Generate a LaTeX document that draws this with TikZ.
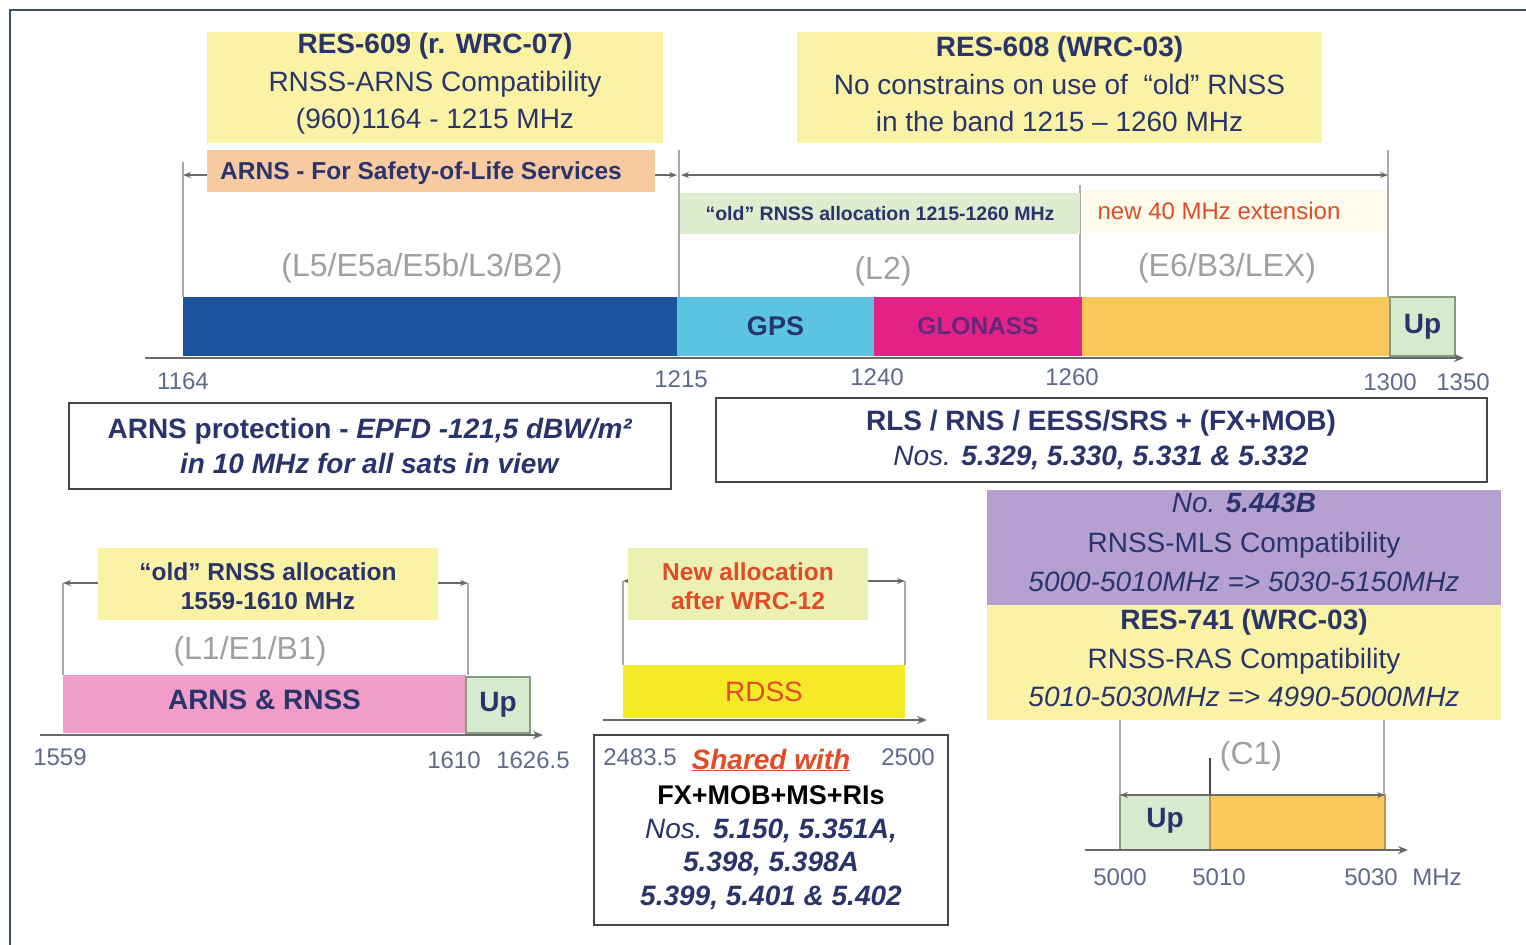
\documentclass[tikz,border=0pt]{standalone}
\usepackage{fontspec}
\setmainfont{Liberation Sans}
\usetikzlibrary{arrows.meta}
\definecolor{navy}{RGB}{42,52,108}
\definecolor{ticktxt}{RGB}{95,105,140}
\definecolor{glabel}{RGB}{160,160,160}
\definecolor{yellowA}{RGB}{250,243,165}
\definecolor{salmon}{RGB}{248,202,162}
\definecolor{lgreen}{RGB}{222,236,208}
\definecolor{pale}{RGB}{254,251,236}
\definecolor{darkblue}{RGB}{28,84,158}
\definecolor{cyanb}{RGB}{92,196,226}
\definecolor{magentab}{RGB}{228,34,134}
\definecolor{orangeb}{RGB}{250,200,90}
\definecolor{upgreen}{RGB}{216,234,206}
\definecolor{upedge}{RGB}{130,155,130}
\definecolor{pinkb}{RGB}{240,158,200}
\definecolor{rdssb}{RGB}{246,234,40}
\definecolor{ygreen}{RGB}{236,240,178}
\definecolor{purpleb}{RGB}{182,160,208}
\definecolor{redtxt}{RGB}{225,75,40}
\definecolor{framec}{RGB}{60,80,100}
\definecolor{boxedge}{RGB}{70,70,70}
\definecolor{glontxt}{RGB}{100,40,120}
\definecolor{vline}{RGB}{170,170,170}
\definecolor{arrowc}{RGB}{105,105,105}
\newcommand\fsz[2]{\fontsize{#1}{#2}\selectfont}
\tikzset{
  every node/.style={inner sep=0pt, outer sep=0pt},
  fillbox/.style={draw=none, rectangle},
  edgebox/.style={draw=boxedge, line width=2pt, fill=white, rectangle},
  txt/.style={text=navy, font=\fsz{28}{37}, align=center},
  graylab/.style={text=glabel, font=\fsz{32}{36}},
  ticklab/.style={text=ticktxt, font=\fsz{24}{28}},
  vguide/.style={draw=vline, line width=1.2pt},
  dblarrow/.style={draw=arrowc, line width=1.3pt, {Stealth[length=8pt,width=6pt]}-{Stealth[length=8pt,width=6pt]}},
  axisline/.style={draw=arrowc, line width=2pt, -{Stealth[length=10pt,width=8pt]}},
  upbox/.style={fill=upgreen, draw=upedge, line width=1.2pt, rectangle},
  frameline/.style={draw=framec, line width=2.5pt}
}
\begin{document}
\begin{tikzpicture}[x=1pt,y=-1pt]
\useasboundingbox (0,0) rectangle (1526,945);
\fill[white] (0,0) rectangle (1526,945);

% frame
\coordinate (fTR) at (1526,10);
\coordinate (fTL) at (10,10);
\coordinate (fBL) at (10,945);
\draw[frameline] (fTR) -- (fTL) -- (fBL);

% ================= TOP BAND =================
% guide lines
\coordinate (g1t) at (183,162); \coordinate (g1b) at (183,297);
\coordinate (g2t) at (679,150); \coordinate (g2b) at (679,297);
\coordinate (g3t) at (1080,185); \coordinate (g3b) at (1080,297);
\coordinate (g4t) at (1388,150); \coordinate (g4b) at (1388,297);
\draw[vguide] (g1t) -- (g1b);
\draw[vguide] (g2t) -- (g2b);
\draw[vguide] (g3t) -- (g3b);
\draw[vguide] (g4t) -- (g4b);

% span arrows
\coordinate (a1L) at (183,175); \coordinate (a1R) at (677,175);
\coordinate (a2L) at (681,175); \coordinate (a2R) at (1388,175);
\draw[dblarrow] (a1L) -- (a1R);
\draw[dblarrow] (a2L) -- (a2R);

% RES-609
\node[fillbox, fill=yellowA, minimum width=456pt, minimum height=111pt] (res609) at (435,87.5) {};
\node[txt, font=\fsz{28}{37.5}] (res609t) at (435,84) {\textbf{RES-609 (r. WRC-07)}\\RNSS-ARNS Compatibility\\(960)1164 - 1215 MHz};

% ARNS safety of life
\node[fillbox, fill=salmon, minimum width=448pt, minimum height=42pt] (arnssol) at (431,171) {};
\node[txt, font=\fsz{24.5}{28}\bfseries] (arnssolt) at (421,173) {ARNS - For Safety-of-Life Services};

% RES-608
\node[fillbox, fill=yellowA, minimum width=525pt, minimum height=111pt] (res608) at (1059.5,87.5) {};
\node[txt, font=\fsz{28}{37.5}] (res608t) at (1059.5,84) {\textbf{RES-608 (WRC-03)}\\No constrains on use of \ “old” RNSS\\in the band 1215 -- 1260 MHz};

% old RNSS allocation / new 40 MHz
\node[fillbox, fill=lgreen, minimum width=400pt, minimum height=41pt] (oldL2) at (880,213.5) {};
\node[txt, font=\fsz{19.5}{24}\bfseries] (oldL2t) at (880,214) {“old” RNSS allocation 1215-1260 MHz};
\node[fillbox, fill=pale, minimum width=303pt, minimum height=42pt] (new40) at (1233.5,211) {};
\node[txt, text=redtxt, font=\fsz{24}{28}] (new40t) at (1219,211) {new 40 MHz extension};

% band names
\node[graylab] (l5lab) at (422,268) {(L5/E5a/E5b/L3/B2)};
\node[graylab] (l2lab) at (883,271) {(L2)};
\node[graylab] (e6lab) at (1227,268) {(E6/B3/LEX)};

% band bars
\node[fillbox, fill=darkblue, minimum width=494pt, minimum height=59pt] (barL5) at (430,326.5) {};
\node[fillbox, fill=cyanb, minimum width=197pt, minimum height=59pt, text=navy, font=\fsz{27}{30}\bfseries] (barGPS) at (775.5,326.5) {GPS};
\node[fillbox, fill=magentab, minimum width=208pt, minimum height=59pt, text=glontxt, font=\fsz{24.5}{28}\bfseries] (barGLO) at (978,326.5) {GLONASS};
\node[fillbox, fill=orangeb, minimum width=308pt, minimum height=59pt] (barE6) at (1236,326.5) {};
\node[upbox, minimum width=65pt, minimum height=59pt, text=navy, font=\fsz{28}{30}\bfseries] (barUp) at (1422.5,326.5) {Up};

% axis
\coordinate (ax1s) at (145,358); \coordinate (ax1e) at (1464,358);
\draw[axisline] (ax1s) -- (ax1e);

\node[ticklab] (t1164) at (183,381) {1164};
\node[ticklab] (t1215) at (681,379) {1215};
\node[ticklab] (t1240) at (877,377) {1240};
\node[ticklab] (t1260) at (1072,377) {1260};
\node[ticklab] (t1300) at (1390,382) {1300};
\node[ticklab] (t1350) at (1463,382) {1350};

% ARNS protection
\node[edgebox, minimum width=602pt, minimum height=86pt] (arnsprot) at (370,446) {};
\node[txt, font=\fsz{28}{35}\bfseries] (arnsprott) at (370,446) {ARNS protection - \textit{EPFD -121,5 dBW/m²}\\\textit{in 10 MHz for all sats in view}};

% RLS box
\node[edgebox, minimum width=771pt, minimum height=84pt] (rls) at (1101.5,440) {};
\node[txt, font=\fsz{28}{35}] (rlst) at (1101,440) {\textbf{RLS / RNS / EESS/SRS + (FX+MOB)}\\\textit{Nos.} \textbf{\textit{5.329, 5.330, 5.331 \& 5.332}}};

% ================= RIGHT (C1) =================
\node[fillbox, fill=purpleb, minimum width=514pt, minimum height=115pt] (mls) at (1244,547.5) {};
\node[fillbox, fill=yellowA, minimum width=514pt, minimum height=115pt] (ras) at (1244,662.5) {};
\node[txt] (mls1) at (1244,503) {\textit{No.} \textbf{\textit{5.443B}}};
\node[txt] (mls2) at (1244,545) {RNSS-MLS Compatibility};
\node[txt] (mls3) at (1244,582) {\textit{5000-5010MHz => 5030-5150MHz}};
\node[txt, font=\fsz{28}{30}\bfseries] (ras1) at (1244,622) {RES-741 (WRC-03)};
\node[txt] (ras2) at (1244,661) {RNSS-RAS Compatibility};
\node[txt] (ras3) at (1244,697) {\textit{5010-5030MHz => 4990-5000MHz}};

\coordinate (c1a) at (1120,720); \coordinate (c1ab) at (1120,850);
\coordinate (c1b) at (1384,720); \coordinate (c1bb) at (1384,795);
\coordinate (c1m) at (1210,758); \coordinate (c1mb) at (1210,795);
\draw[vguide] (c1a) -- (c1ab);
\draw[vguide] (c1b) -- (c1bb);
\node[graylab] (c1lab) at (1251,756) {(C1)};

\node[upbox, minimum width=90pt, minimum height=55pt, text=navy, font=\fsz{28}{30}\bfseries] (upC) at (1165,822.5) {\raisebox{10pt}{Up}};
\node[fillbox, fill=orangeb, draw=orangeb!75!black, line width=1.2pt, minimum width=175pt, minimum height=55pt] (extC) at (1297.5,822.5) {};
\draw[draw=boxedge, line width=1.3pt] (c1m) -- (c1mb);
\coordinate (ac1L) at (1120,795); \coordinate (ac1R) at (1385,795);
\draw[dblarrow] (ac1L) -- (ac1R);

\coordinate (ax4s) at (1085,850); \coordinate (ax4e) at (1408,850);
\draw[axisline] (ax4s) -- (ax4e);
\node[ticklab] (t5000) at (1120,877) {5000};
\node[ticklab] (t5010) at (1219,877) {5010};
\node[ticklab] (t5030) at (1371,877) {5030};
\node[ticklab] (tmhz) at (1437,877) {MHz};

% ================= BOTTOM LEFT (L1) =================
\coordinate (l1a) at (63,583); \coordinate (l1ab) at (63,675);
\coordinate (l1b) at (468,583); \coordinate (l1bb) at (468,675);
\draw[vguide] (l1a) -- (l1ab);
\draw[vguide] (l1b) -- (l1bb);
\draw[dblarrow] (l1a) -- (l1b);
\node[fillbox, fill=yellowA, minimum width=340pt, minimum height=72pt] (oldL1) at (268,584) {};
\node[txt, font=\fsz{24.5}{29}\bfseries] (oldL1t) at (268,586) {“old” RNSS allocation\\1559-1610 MHz};
\node[graylab] (l1lab) at (250,651) {(L1/E1/B1)};

\node[fillbox, fill=pinkb, minimum width=403pt, minimum height=58pt, text=navy, font=\fsz{28}{30}\bfseries] (barL1) at (264.5,704) {\raisebox{8pt}{ARNS \& RNSS}};
\node[upbox, minimum width=64pt, minimum height=56pt, text=navy, font=\fsz{28}{30}\bfseries] (upL1) at (498,705) {Up};

\coordinate (ax2s) at (40,735); \coordinate (ax2e) at (543,735);
\draw[axisline] (ax2s) -- (ax2e);
\node[ticklab] (t1559) at (60,757) {1559};
\node[ticklab] (t1610) at (454,760) {1610};
\node[ticklab] (t16265) at (533,760) {1626.5};

% ================= BOTTOM MIDDLE (RDSS) =================
\coordinate (r1a) at (623,581); \coordinate (r1ab) at (623,665);
\coordinate (r1b) at (905,581); \coordinate (r1bb) at (905,665);
\draw[vguide] (r1a) -- (r1ab);
\draw[vguide] (r1b) -- (r1bb);
\draw[dblarrow] (r1a) -- (r1b);
\node[fillbox, fill=ygreen, minimum width=240pt, minimum height=72pt] (newalloc) at (748,584) {};
\node[txt, text=redtxt, font=\fsz{24.5}{29}\bfseries] (newalloct) at (748,586) {New allocation\\after WRC-12};

\node[fillbox, fill=rdssb, minimum width=282pt, minimum height=53pt, text=redtxt, font=\fsz{28}{30}] (rdss) at (764,691.5) {RDSS};
\coordinate (ax3s) at (603,720); \coordinate (ax3e) at (927,720);
\draw[axisline] (ax3s) -- (ax3e);

\node[edgebox, minimum width=354pt, minimum height=190pt] (shared) at (771,830) {};
\node[ticklab] (t24835) at (640,757) {2483.5};
\node[ticklab] (t2500) at (908,757) {2500};
\node[txt, text=redtxt, font=\fsz{28}{30}\bfseries\itshape] (sharedt) at (771,760) {\underline{Shared with}};
\node[txt, text=black, font=\fsz{27}{30}\bfseries] (fxmob) at (771,795) {FX+MOB+MS+RIs};
\node[txt, font=\fsz{28}{33.5}] (nos2) at (771,864) {\textit{Nos.} \textbf{\textit{5.150, 5.351A,}}\\\textbf{\textit{5.398, 5.398A}}\\\textbf{\textit{5.399, 5.401 \& 5.402}}};

\end{tikzpicture}
\end{document}
